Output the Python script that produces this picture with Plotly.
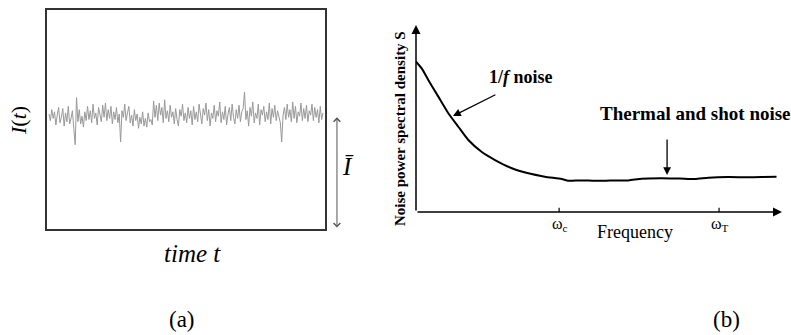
import plotly.graph_objects as go

# ---- Panel (a): current fluctuation I(t) ----
current = [
    5.25, 4.95, 5.45, 5.05, 5.35, 4.75, 5.20, 5.55, 4.85, 5.10,
    5.50, 4.70, 5.30, 4.90, 5.60, 4.80, 5.05, 5.40, 4.60, 3.85,
    6.00, 4.90, 5.45, 4.80, 5.15, 4.65, 5.35, 4.95, 5.60, 5.00,
    5.40, 4.85, 5.70, 5.05, 5.30, 4.75, 5.55, 5.15, 4.90, 5.65,
    5.10, 5.75, 4.95, 5.45, 5.05, 5.60, 4.80, 5.35, 5.00, 5.55,
    4.85, 5.25, 3.97, 5.40, 5.10, 5.70, 4.95, 5.30, 5.60, 4.85,
    5.20, 4.70, 5.45, 4.95, 5.25, 4.60, 5.10, 4.80, 5.35, 4.70,
    5.05, 4.65, 5.30, 4.90, 5.00, 4.75, 5.85, 5.10, 5.65, 4.95,
    5.75, 5.20, 5.55, 4.85, 5.90, 5.05, 5.40, 4.90, 5.65, 5.10,
    5.35, 4.80, 5.50, 5.00, 4.70, 5.45, 5.15, 5.70, 4.95, 5.30,
    4.85, 5.55, 5.05, 5.40, 4.75, 5.60, 5.00, 5.35, 4.90, 5.70,
    5.10, 4.80, 5.50, 5.20, 5.75, 4.95, 5.45, 4.70, 5.30, 5.05,
    5.65, 4.90, 5.40, 5.15, 5.80, 4.85, 5.35, 5.00, 5.60, 4.75,
    5.25, 5.55, 4.95, 5.70, 5.10, 4.80, 5.45, 5.05, 5.65, 4.90,
    5.35, 5.50, 6.25, 5.00, 5.40, 4.70, 5.55, 5.15, 5.80, 4.85,
    5.30, 5.05, 5.70, 4.75, 5.45, 5.20, 5.60, 4.90, 5.35, 5.00,
    5.75, 4.80, 5.50, 5.10, 5.65, 4.95, 5.40, 5.15, 4.85, 3.97,
    5.20, 5.55, 5.00, 5.70, 5.10, 5.45, 4.90, 5.80, 5.05, 5.60,
    4.85, 5.35, 5.15, 5.75, 4.95, 5.50, 5.05, 5.65, 4.90, 5.40,
    5.20, 5.70, 4.95, 5.55, 5.10, 5.45, 4.85, 5.60, 5.00, 5.30,
]
time = list(range(len(current)))
I_mean = 5.2

# ---- Panel (b): noise power spectral density ----
freq = [0, 1.56, 3.36, 6.1, 8.83, 11.56, 14.3, 17.9, 21.6, 26.2, 30.7, 35.2,
        39.8, 41.6, 45.0, 48.9, 53.0, 58.0, 61.7, 67.1, 72.0, 76.2, 79.9,
        85.3, 90.0, 94.4, 98.5]
psd = [80.4, 76.8, 70.6, 61.7, 52.8, 45.6, 38.5, 32.2, 27.8, 23.4, 20.7, 18.9,
       17.6, 16.7, 16.9, 16.7, 16.8, 16.9, 17.8, 18.0, 17.9, 17.6, 18.3,
       18.7, 18.6, 18.7, 18.9]
omega_c = 39.1
omega_T = 82.8

W, H = 791, 335
SERIF = "Liberation Serif, Times New Roman, DejaVu Serif, serif"


def px(x):
    return x / W


def py(y):
    return 1 - y / H


fig = go.Figure()
fig.add_trace(go.Scatter(x=time, y=current, mode="lines",
                         line=dict(color="#999999", width=1),
                         xaxis="x", yaxis="y", hoverinfo="skip"))
fig.add_trace(go.Scatter(x=freq, y=psd, mode="lines",
                         line=dict(color="black", width=2, shape="spline", smoothing=0.6),
                         xaxis="x2", yaxis="y2", hoverinfo="skip"))

frame = dict(showline=True, mirror=True, linecolor="#333", linewidth=1.5,
             showticklabels=False, ticks="", showgrid=False, zeroline=False)

fig.update_layout(
    width=W, height=H, margin=dict(l=0, r=0, t=0, b=0),
    paper_bgcolor="white", plot_bgcolor="white", showlegend=False,
    font=dict(family=SERIF),
    xaxis=dict(domain=[px(47), px(325)], range=[-1.45, 200.45], anchor="y", **frame),
    yaxis=dict(domain=[py(229), py(10)], range=[0, 10], anchor="x", **frame),
    xaxis2=dict(domain=[px(416), px(782)], range=[0, 100], anchor="y2", visible=False),
    yaxis2=dict(domain=[py(212), py(25)], range=[0, 100], anchor="x2", visible=False),
)

ann = []
for (x0, y0, x1, y1) in [(0, 0, 100, 0), (0, 0, 0, 100)]:
    ann.append(dict(x=x1, y=y1, ax=x0, ay=y0, xref="x2", yref="y2", axref="x2", ayref="y2",
                    text="", showarrow=True, arrowhead=2, arrowsize=1.2, arrowwidth=1.5,
                    arrowcolor="black", standoff=0, startstandoff=0))
ann.append(dict(x=10.1, y=51.3, ax=22.1, ay=63.1, xref="x2", yref="y2", axref="x2", ayref="y2",
                text="", showarrow=True, arrowhead=2, arrowsize=1.2, arrowwidth=1.3,
                arrowcolor="black", standoff=0))
ann.append(dict(x=68.6, y=19.8, ax=68.6, ay=39.6, xref="x2", yref="y2", axref="x2", ayref="y2",
                text="", showarrow=True, arrowhead=2, arrowsize=1.2, arrowwidth=1.3,
                arrowcolor="black", standoff=0))
ann.append(dict(x=1.043, y=I_mean - 0.1, ax=1.043, ay=0, xref="x domain", yref="y",
                axref="x domain", ayref="y", text="", showarrow=True, arrowhead=4,
                arrowside="end+start", arrowsize=1.3, arrowwidth=1, arrowcolor="#555",
                standoff=0, startstandoff=0))

texts = [
    ("<i>I</i>(<i>t</i>)", 18, 121, 22, -90),
    ("<i>time t</i>", 192, 254, 25, 0),
    ("<i>Ī</i>", 348, 166, 25, 0),
    ("(a)", 182, 319, 23, 0),
    ("(b)", 726, 319, 23, 0),
    ("<b>Noise power spectral density S</b>", 400, 128, 15, -90),
    ("<b>1/<i>f</i> noise</b>", 521, 77, 18, 0),
    ("<b>Thermal and shot noise</b>", 695, 114, 19, 0),
    ("Frequency", 635, 232, 18, 0),
    ("ω<sub>c</sub>", 560, 224, 16, 0),
    ("ω<sub>T</sub>", 720, 224, 16, 0),
]
for t, x, y, s, ang in texts:
    ann.append(dict(text=t, x=px(x), y=py(y), xref="paper", yref="paper",
                    xanchor="center", yanchor="middle", showarrow=False, textangle=ang,
                    font=dict(family=SERIF, size=s, color="black")))

fig.update_layout(annotations=ann)

shapes = []
for w in [omega_c, omega_T]:
    shapes.append(dict(type="line", xref="x2", yref="y2", x0=w, x1=w, y0=-1.8, y1=2.3,
                       line=dict(color="black", width=1.2)))
fig.update_layout(shapes=shapes)

fig.write_html("out.html", config={"displayModeBar": False},
               post_script="document.body.style.margin='0';document.body.style.overflow='hidden';")
